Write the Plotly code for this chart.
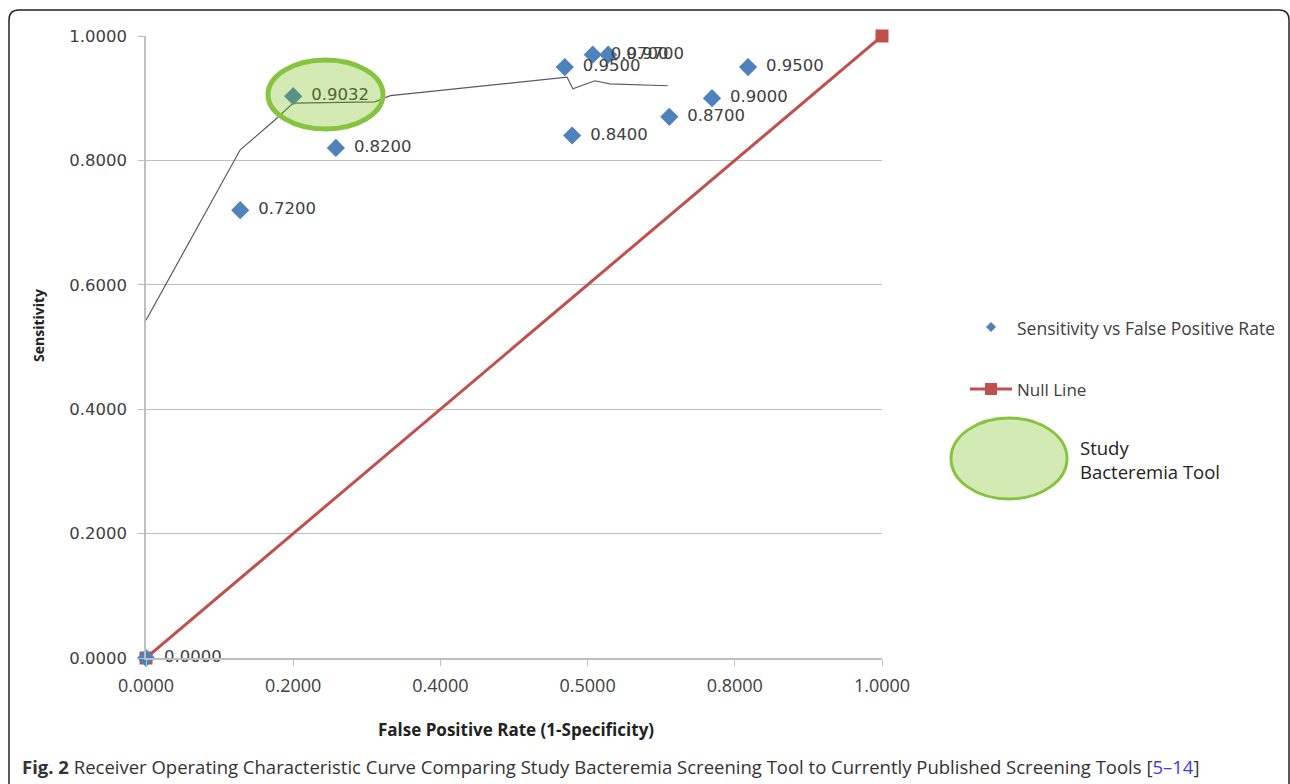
import plotly.graph_objects as go

# ---------------- data ----------------
fpr = [0.0, 0.128, 0.200, 0.258, 0.569, 0.579, 0.607, 0.628, 0.711, 0.769, 0.818]
sens = [0.0, 0.72, 0.9032, 0.82, 0.95, 0.84, 0.97, 0.97, 0.87, 0.90, 0.95]
point_labels = ["0.0000", "0.7200", "0.9032", "0.8200", "0.9500", "0.8400",
                "0.9700", "0.9700", "0.8700", "0.9000", "0.9500"]

curve_x = [0.0, 0.128, 0.175, 0.200, 0.311, 0.332, 0.572, 0.580, 0.610, 0.630, 0.709]
curve_y = [0.543, 0.817, 0.865, 0.892, 0.894, 0.904, 0.934, 0.915, 0.928, 0.923, 0.920]

null_x = [0.0, 1.0]
null_y = [0.0, 1.0]

study_x = [0.1658, 0.322]   # ellipse extent around study tool point
study_y = [0.8505, 0.9614]

x_tickvals = [0.0, 0.2, 0.4, 0.6, 0.8, 1.0]
x_ticktext = ["0.0000", "0.2000", "0.4000", "0.5000", "0.8000", "1.0000"]
y_tickvals = [0.0, 0.2, 0.4, 0.6, 0.8, 1.0]
y_ticktext = ["0.0000", "0.2000", "0.4000", "0.6000", "0.8000", "1.0000"]

# ---------------- layout geometry ----------------
W, H = 1290, 784
L, R, T, B = 146, 882, 36, 658


def px(xp):
    return (xp - L) / (R - L)


def py(yp):
    return (B - yp) / (B - T)


BLUE = "#4F81BD"
RED = "#C0504D"
GREEN_LINE = "#86C440"
GREEN_FILL = "rgba(108,185,8,0.30)"
TXT = "#404040"

fig = go.Figure()

fig.add_trace(go.Scatter(
    x=curve_x, y=curve_y, mode="lines",
    line=dict(color="#5a5a5a", width=1.2),
    showlegend=False, hoverinfo="skip", cliponaxis=False))

fig.add_trace(go.Scatter(
    x=null_x, y=null_y, mode="lines+markers", name="Null Line",
    line=dict(color=RED, width=3),
    marker=dict(symbol="square", size=13, color=RED),
    showlegend=False, cliponaxis=False))

fig.add_trace(go.Scatter(
    x=fpr, y=sens, mode="markers+text", name="Sensitivity vs False Positive Rate",
    marker=dict(symbol="diamond", size=14, color=BLUE),
    text=point_labels, textposition="middle right",
    texttemplate="\u2002%{text}",
    textfont=dict(family="DejaVu Sans", size=16.5, color=TXT),
    showlegend=False, cliponaxis=False))

shapes = []
# study tool ellipse
shapes.append(dict(type="circle", xref="x", yref="y",
                   x0=study_x[0], x1=study_x[1], y0=study_y[0], y1=study_y[1],
                   fillcolor=GREEN_FILL, line=dict(color=GREEN_LINE, width=5),
                   layer="above"))

# manual legend
cx, cy = 991, 327
shapes.append(dict(type="path", xref="paper", yref="paper",
                   path=f"M {px(cx-5)} {py(cy)} L {px(cx)} {py(cy-5)} L {px(cx+5)} {py(cy)} L {px(cx)} {py(cy+5)} Z",
                   fillcolor=BLUE, line=dict(color=BLUE, width=0)))
shapes.append(dict(type="line", xref="paper", yref="paper",
                   x0=px(970), x1=px(1012), y0=py(389), y1=py(389),
                   line=dict(color=RED, width=3)))
shapes.append(dict(type="rect", xref="paper", yref="paper",
                   x0=px(985), x1=px(997), y0=py(395), y1=py(383),
                   fillcolor=RED, line=dict(color=RED, width=0)))
shapes.append(dict(type="circle", xref="paper", yref="paper",
                   x0=px(951), x1=px(1067), y0=py(499), y1=py(418),
                   fillcolor="#d3eab5", line=dict(color=GREEN_LINE, width=3)))

# rounded frame
r = 10
x0f, y0f, x1f = 9, 10, 1289
shapes.append(dict(type="path", xref="paper", yref="paper",
                   path=(f"M {px(x0f)} {py(800)} L {px(x0f)} {py(y0f+r)} "
                         f"Q {px(x0f)} {py(y0f)} {px(x0f+r)} {py(y0f)} "
                         f"L {px(x1f-r)} {py(y0f)} Q {px(x1f)} {py(y0f)} {px(x1f)} {py(y0f+r)} "
                         f"L {px(x1f)} {py(800)}"),
                   line=dict(color="#222222", width=1.5)))

annotations = [
    dict(x=px(1015), y=py(328), xref="paper", yref="paper", xanchor="left", yanchor="middle",
         text="Sensitivity vs False Positive Rate", showarrow=False,
         font=dict(family="Open Sans", size=17.5, color=TXT)),
    dict(x=px(1015), y=py(389), xref="paper", yref="paper", xanchor="left", yanchor="middle",
         text="Null Line", showarrow=False,
         font=dict(family="Open Sans", size=17, color=TXT)),
    dict(x=px(1078), y=py(459), xref="paper", yref="paper", xanchor="left", yanchor="middle",
         text="Study<br>Bacteremia Tool", showarrow=False, align="left",
         font=dict(family="Open Sans", size=18.5, color="#222222")),
    dict(x=px(516), y=py(729), xref="paper", yref="paper", xanchor="center", yanchor="middle",
         text="<b>False Positive Rate (1-Specificity)</b>", showarrow=False,
         font=dict(family="Open Sans", size=17, color="#222222")),
    dict(x=px(38), y=py(325), xref="paper", yref="paper", xanchor="center", yanchor="middle",
         text="<b>Sensitivity</b>", showarrow=False, textangle=-90,
         font=dict(family="Open Sans", size=14, color="#222222")),
    dict(x=px(20), y=py(766), xref="paper", yref="paper", xanchor="left", yanchor="middle",
         text=("<b>Fig. 2</b> Receiver Operating Characteristic Curve Comparing Study Bacteremia "
               "Screening Tool to Currently Published Screening Tools "
               "[<span style='color:#3b3bf5'>5–14</span>]"),
         showarrow=False,
         font=dict(family="Open Sans", size=18.5, color="#333333")),
]

fig.update_layout(
    width=W, height=H,
    margin=dict(l=L, r=W - R, t=T, b=H - B, pad=0),
    paper_bgcolor="white", plot_bgcolor="white",
    showlegend=False,
    shapes=shapes, annotations=annotations,
    xaxis=dict(range=[0, 1], tickvals=x_tickvals, ticktext=x_ticktext,
               showgrid=False, zeroline=False, showline=True, linecolor="#bfbfbf", linewidth=1.5,
               ticks="outside", ticklen=6, tickcolor="#bfbfbf",
               tickfont=dict(family="Open Sans", size=18, color=TXT),
               ticklabelstandoff=5),
    yaxis=dict(range=[0, 1], tickvals=y_tickvals, ticktext=y_ticktext,
               showgrid=True, gridcolor="#bfbfbf", gridwidth=1.2, zeroline=False,
               showline=True, linecolor="#bfbfbf", linewidth=1.5,
               ticks="outside", ticklen=6, tickcolor="#bfbfbf",
               tickfont=dict(family="DejaVu Sans", size=16.5, color=TXT),
               ticklabelstandoff=8),
)

fig.write_html("out.html")
